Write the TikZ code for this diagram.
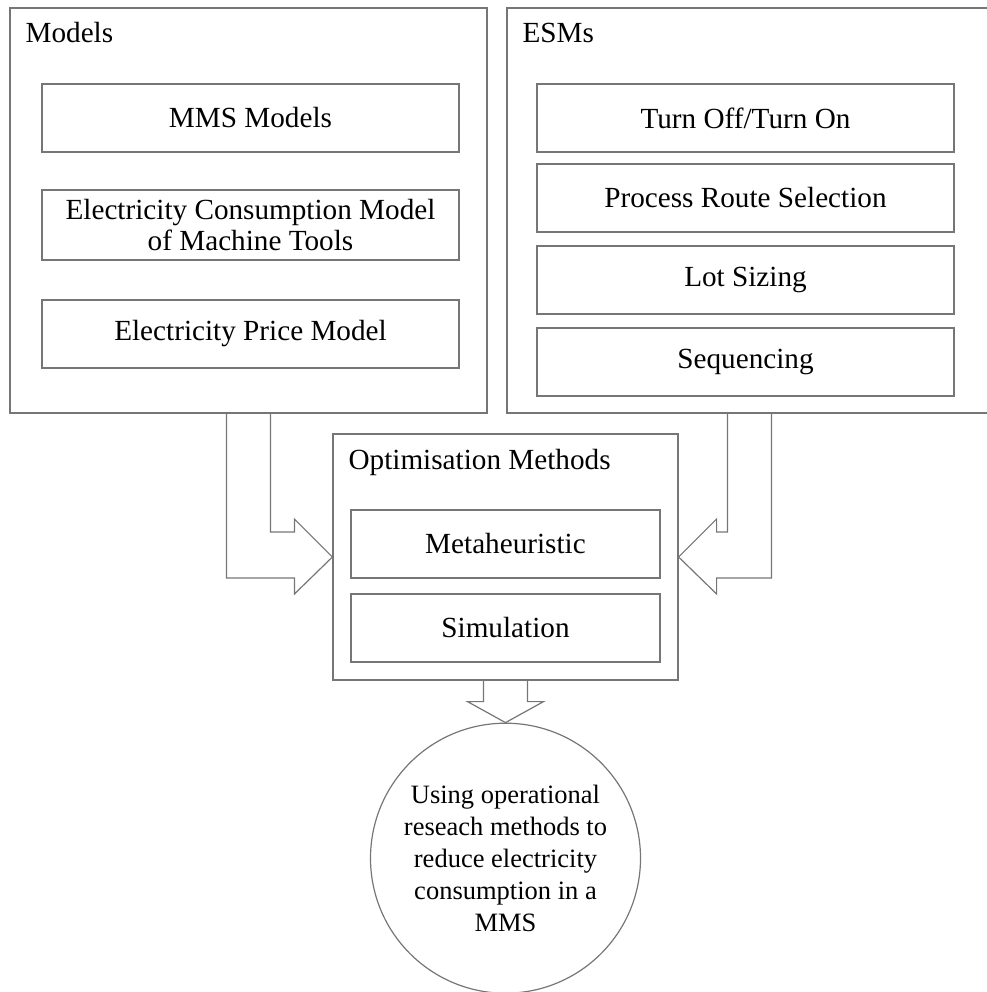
\documentclass[tikz,border=0pt]{standalone}
\usepackage{fontspec}
\setmainfont{Liberation Serif}
\usetikzlibrary{positioning, calc}
\definecolor{linegray}{RGB}{118,118,118}

\begin{document}
\begin{tikzpicture}[x=1pt, y=-1pt,
  groupbox/.style={draw=linegray, line width=1.2pt, minimum height=405pt, inner sep=0pt},
  grouptitle/.style={anchor=base west, inner sep=0pt, font=\fontsize{29.2}{32}\selectfont},
  entry/.style={draw=linegray, line width=1.2pt, minimum width=417pt, minimum height=68pt, align=center, font=\fontsize{29.2}{31.5}\selectfont},
  blockarrow/.style={draw=linegray, line width=1.2pt, line join=miter}]
\useasboundingbox (0,0) rectangle (986,992);

% Models
\node [groupbox, minimum width=477pt] (models) at (248.5,210.5) {};
\node [grouptitle] (modelstitle) at ($(models.north west)+(16,35)$) {Models};
\node [entry] (mms) at (250.5,118) {MMS Models};
\node [entry, minimum height=70pt] (ecm) at (250.5,225) {Electricity Consumption Model\\of Machine Tools};
\node [entry] (epm) at (250.5,334) {Electricity Price Model};

% ESMs
\node [groupbox, minimum width=483pt] (esms) at (748.5,210.5) {};
\node [grouptitle] (esmstitle) at ($(esms.north west)+(16,35)$) {ESMs};
\node [entry] (turn) at (745.5,118) {Turn Off/Turn On};
\node [entry] (route) at (745.5,198) {Process Route Selection};
\node [entry] (lot) at (745.5,280) {Lot Sizing};
\node [entry] (seq) at (745.5,362) {Sequencing};

% Optimisation methods
\node [groupbox, minimum width=345pt, minimum height=246pt] (opt) at (505.5,557) {};
\node [grouptitle] (opttitle) at ($(opt.north west)+(16,36)$) {Optimisation Methods};
\node [entry, minimum width=309pt] (meta) at (505.5,544) {Metaheuristic};
\node [entry, minimum width=309pt] (sim) at (505.5,628) {Simulation};

% Goal
\node [draw=linegray, line width=1.2pt, circle, minimum size=270pt, inner sep=0pt, align=center,
  font=\fontsize{26.5}{32}\selectfont, below=42pt of opt] (goal)
  {Using operational\\reseach methods to\\reduce electricity\\consumption in a\\MMS};

% Block arrows
\draw [blockarrow] (models.south west) ++(217,0) |- ($(opt.west)+(-38,21)$) -- ++(0,16) -- (opt.west)
  -- ++(-38,-38) -- ++(0,13) -| ($(models.south west)+(261,0)$);
\draw [blockarrow] (esms.south west) ++(265,0) |- ($(opt.east)+(38,21)$) -- ++(0,16) -- (opt.east)
  -- ++(38,-38) -- ++(0,13) -| ($(esms.south west)+(221,0)$);
\draw [blockarrow] ($(opt.south)+(-22,0)$) |- ($(goal.north)+(-38,-21)$) -- (goal.north)
  -- ++(38,-21) -| ($(opt.south)+(22,0)$);

\end{tikzpicture}
\end{document}
